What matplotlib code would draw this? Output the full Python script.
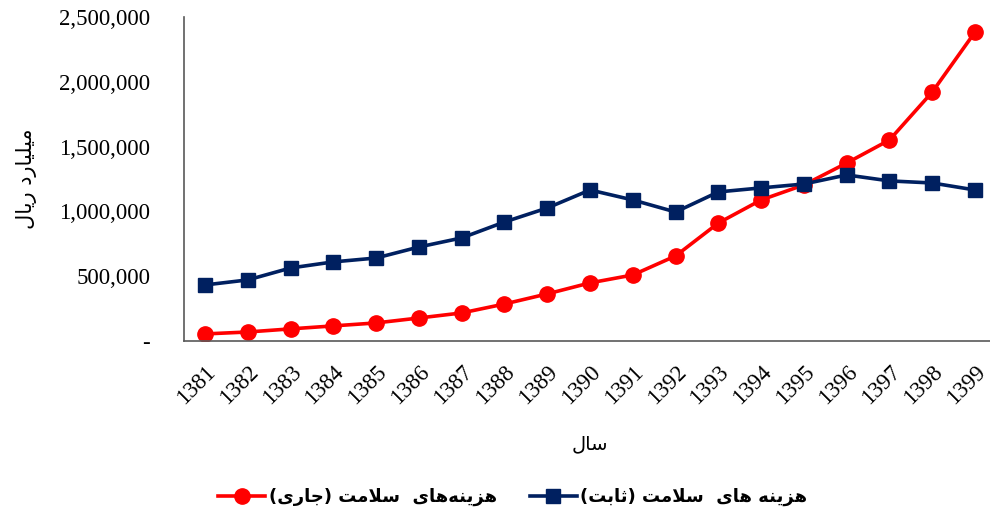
import matplotlib
matplotlib.use('Agg')
import matplotlib.pyplot as plt
from matplotlib.ticker import FuncFormatter

# سال ها (محور افقی)
years = ['1381', '1382', '1383', '1384', '1385', '1386', '1387', '1388', '1389', '1390',
         '1391', '1392', '1393', '1394', '1395', '1396', '1397', '1398', '1399']

# هزینه های سلامت (جاری) - میلیارد ریال
current = [54000, 69000, 93000, 116000, 139000, 177000, 216000, 285000, 363000, 448000,
           509000, 656000, 910000, 1088000, 1204000, 1373000, 1551000, 1921000, 2384000]

# هزینه های سلامت (ثابت) - میلیارد ریال
constant = [432000, 471000, 563000, 610000, 640000, 725000, 795000, 918000, 1026000, 1165000,
            1088000, 995000, 1150000, 1181000, 1211000, 1281000, 1235000, 1219000, 1165000]

# متن فارسی به صورت اشکال نمایشی و ترتیب دیداری (matplotlib متن راست به چپ را شکل نمی دهد)
xlabel_txt = '\uFEDD\uFE8E\uFEB3'  # سال
ylabel_txt = '\uFEDD\uFE8E\uFEF3\uFEAD \uFEA9\uFEAD\uFE8E\uFEF4\uFEE0\uFEF4\uFEE3'  # میلیارد ریال
salamat = '\uFE96\uFEE3\uFEFC\uFEB3'
label_current = '(' + '\uFEEF\uFEAD\uFE8E\uFE9F' + ') ' + salamat + '  ' + '\uFEEF\uFE8E\uFEEB\uFEEA\uFEE8\uFEF3\uFEB0\uFEEB'
label_constant = '(' + '\uFE96\uFE91\uFE8E\uFE9B' + ') ' + salamat + '  ' + '\uFEEF\uFE8E\uFEEB' + ' ' + '\uFEEA\uFEE8\uFEF3\uFEB0\uFEEB'

arabic_font = ['DejaVu Sans']
plt.rcParams['font.family'] = ['Liberation Serif', 'DejaVu Sans']

fig = plt.figure(figsize=(9.9, 5.15), dpi=100)
ax = fig.add_axes([0.1855, 0.338, 0.821, 0.629])

x = list(range(len(years)))
l1, = ax.plot(x, current, color='#FF0000', lw=2.6, marker='o', ms=11, label=label_current)
l2, = ax.plot(x, constant, color='#002060', lw=2.6, marker='s', ms=10, label=label_constant)

ax.set_xlim(-0.5, 18.5)
ax.set_ylim(0, 2500000)
ax.set_yticks([0, 500000, 1000000, 1500000, 2000000, 2500000])
ax.yaxis.set_major_formatter(FuncFormatter(lambda v, p: '-' if v == 0 else f'{int(v):,}'))
ax.set_xticks(x)
ax.set_xticklabels(years, rotation=45, ha='right', rotation_mode='anchor')

ax.tick_params(axis='y', length=0, pad=24, labelsize=16.5)
ax.tick_params(axis='x', length=0, pad=15, labelsize=16.5)

for s in ['top', 'right']:
    ax.spines[s].set_visible(False)
for s in ['left', 'bottom']:
    ax.spines[s].set_color('#595959')
    ax.spines[s].set_linewidth(1.2)

ax.set_xlabel(xlabel_txt, family=arabic_font, fontsize=14, labelpad=18)
ax.set_ylabel(ylabel_txt, family=arabic_font, fontsize=15, labelpad=16)

fig.legend(handles=[l1, l2], loc='center', bbox_to_anchor=(0.518, 0.035), ncol=2,
           frameon=False, prop={'family': arabic_font, 'size': 13, 'weight': 'bold'},
           handlelength=2.6, columnspacing=1.8, handletextpad=0.2)

fig.savefig('out.png', dpi=100)
